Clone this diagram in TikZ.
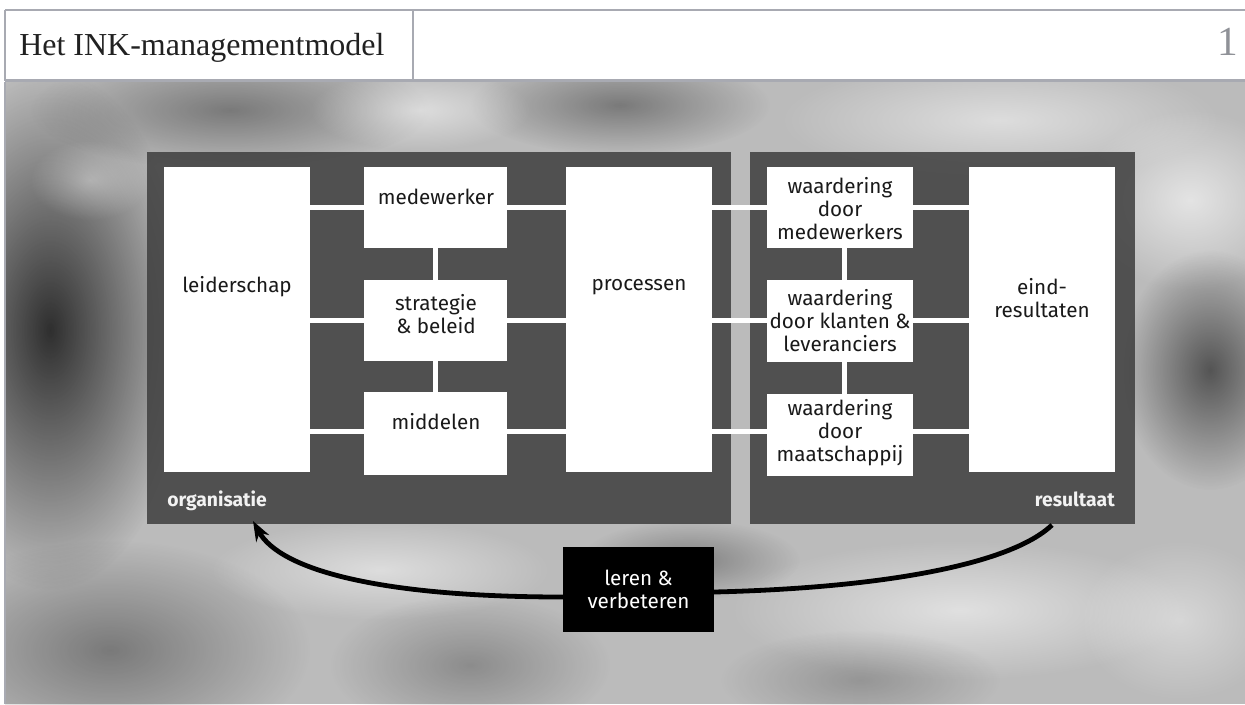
\documentclass[tikz,border=0pt]{standalone}
\usepackage{fontspec}
\newfontfamily\dsans{Fira Sans}
\newfontfamily\dserif{Liberation Serif}
\usetikzlibrary{fit,arrows.meta,fadings}
\tikzfading[name=softblob, inner color=transparent!0, outer color=transparent!100]
\definecolor{hdrc}{HTML}{A8AAB2}
\definecolor{bgc}{HTML}{BBBBBB}
\definecolor{panelc}{HTML}{3E3E3E}
\begin{document}
\begin{tikzpicture}[x=0.75pt,y=-0.75pt,
  panel/.style={fill=panelc, fill opacity=0.85, draw=none, inner sep=0pt},
  wbox/.style={fill=white, draw=none, inner sep=0pt},
  lbl/.style={font=\dsans\fontsize{15.5}{17.25}\selectfont, text=black!90, align=center, inner sep=0pt},
  plbl/.style={font=\dsans\bfseries\fontsize{14.5}{16}\selectfont, text=white!95!black, inner sep=0pt},
  wline/.style={draw=white, line width=3.75pt},
  hdr/.style={draw=hdrc, line width=1.5pt},
  loop/.style={draw=black, line width=3.6pt, -{Stealth[length=15pt,width=11pt]}},
]
\useasboundingbox (0,0) rectangle (1245,704);
\fill[white] (0,0) rectangle (1245,704);
% photo background
\begin{scope}
\clip (5,82) rectangle (1245,704);
\fill[bgc] (5,82) rectangle (1245,704);
\fill[black, opacity=0.75, path fading=softblob] (50,330) ellipse (140 and 260);
\fill[black, opacity=0.35, path fading=softblob] (230,110) ellipse (200 and 60);
\fill[black, opacity=0.35, path fading=softblob] (620,105) ellipse (150 and 50);
\fill[white, opacity=0.5, path fading=softblob] (420,110) ellipse (110 and 40);
\fill[white, opacity=0.5, path fading=softblob] (1000,120) ellipse (220 and 60);
\fill[white, opacity=0.6, path fading=softblob] (1190,200) ellipse (110 and 90);
\fill[black, opacity=0.55, path fading=softblob] (1210,370) ellipse (90 and 120);
\fill[black, opacity=0.35, path fading=softblob] (110,650) ellipse (200 and 110);
\fill[white, opacity=0.5, path fading=softblob] (380,570) ellipse (170 and 50);
\fill[black, opacity=0.25, path fading=softblob] (470,665) ellipse (140 and 70);
\fill[black, opacity=0.3, path fading=softblob] (690,560) ellipse (110 and 40);
\fill[white, opacity=0.55, path fading=softblob] (960,610) ellipse (230 and 70);
\fill[black, opacity=0.2, path fading=softblob] (860,680) ellipse (140 and 50);
\fill[white, opacity=0.4, path fading=softblob] (1180,620) ellipse (100 and 80);
\fill[white, opacity=0.35, path fading=softblob] (90,180) ellipse (60 and 40);
\end{scope}
\draw[draw=hdrc, line width=1pt] (5,82) -- (5,704);
% header
\draw[hdr] (5,10) -- (1245,10);
\draw[hdr] (5,10) -- (5,81);
\draw[hdr, line width=2pt] (5,80.5) -- (1245,80.5);
\draw[hdr] (413,10) -- (413,80);
\node[anchor=base west, font=\dserif\fontsize{24}{26}\selectfont, text=black!87, inner sep=0pt] (title) at (19,55) {Het INK-managementmodel};
\node[anchor=base, font=\dserif\fontsize{31}{31}\selectfont, text=hdrc!85!black, inner sep=0pt] (num) at (1228,55) {1};
% panels
\node[panel, fit={(147,152) (731,524)}] (org) {};
\node[panel, fit={(750,152) (1135,524)}] (res) {};
% boxes
\node[wbox, fit={(164,167) (310,472)}] (leid) {};
\node[wbox, fit={(364,167) (507,248)}] (medw) {};
\node[wbox, fit={(364,280) (507,361)}] (strat) {};
\node[wbox, fit={(364,392) (507,475)}] (midd) {};
\node[wbox, fit={(566,167) (712,472)}] (proc) {};
\node[wbox, fit={(767,167) (913,248)}] (wmed) {};
\node[wbox, fit={(767,280) (913,362)}] (wkla) {};
\node[wbox, fit={(767,394) (913,476)}] (wmaa) {};
\node[wbox, fit={(969,167) (1115,472)}] (eind) {};
% connectors
\draw[wline] (medw.west -| leid.east) -- (medw.west);
\draw[wline] (strat.west -| leid.east) -- (strat.west);
\draw[wline] ([yshift=1.5pt]midd.west -| leid.east) -- ([yshift=1.5pt]midd.west);
\draw[wline] (medw.east) -- (medw.east -| proc.west);
\draw[wline] (strat.east) -- (strat.east -| proc.west);
\draw[wline] ([yshift=1.5pt]midd.east) -- ([yshift=1.5pt]midd.east -| proc.west);
\draw[wline] (wmed.west -| proc.east) -- (wmed.west);
\draw[wline] ([yshift=0.75pt]wkla.west -| proc.east) -- ([yshift=0.75pt]wkla.west);
\draw[wline] ([yshift=2.6pt]wmaa.west -| proc.east) -- ([yshift=2.6pt]wmaa.west);
\draw[wline] (wmed.east) -- (wmed.east -| eind.west);
\draw[wline] ([yshift=0.75pt]wkla.east) -- ([yshift=0.75pt]wkla.east -| eind.west);
\draw[wline] ([yshift=2.6pt]wmaa.east) -- ([yshift=2.6pt]wmaa.east -| eind.west);
\draw[wline] (medw.south) -- (strat.north);
\draw[wline] (strat.south) -- (midd.north);
\draw[wline] ([xshift=3pt]wmed.south) -- ([xshift=3pt]wkla.north);
\draw[wline] ([xshift=3pt]wkla.south) -- ([xshift=3pt]wmaa.north);
% labels
\node[lbl] (tleid) at (237,287) {leiderschap};
\node[lbl] (tmedw) at (436,197) {medewerker};
\node[lbl] (tstrat) at (436,314) {strategie\\\& beleid};
\node[lbl] (tmidd) at (436,422) {middelen};
\node[lbl] (tproc) at (639,287) {processen};
\node[lbl] (twmed) at (840,209) {waardering\\door\\medewerkers};
\node[lbl] (twkla) at (840,321) {waardering\\door klanten \&\\leveranciers};
\node[lbl] (twmaa) at (840,433) {waardering\\door\\maatschappij};
\node[lbl] (teind) at (1042,298) {eind-\\resultaten};
\node[plbl, anchor=base west] (torg) at (167,506) {organisatie};
\node[plbl, anchor=base east] (tres) at (1115,506) {resultaat};
% loop arrow
\coordinate (lstart) at (1052,525);
\coordinate (lend) at (253,521);
\node[fill=black, inner sep=0pt, fit={(563,547) (714,632)}] (leren) {};
\draw[loop] (lstart) .. controls (1010,565) and (880,588) .. (leren.east |- 0,592) -- (leren.west |- 0,597) .. controls (380,597) and (280,570) .. (lend);
\node[fill=black, inner sep=0pt, fit={(563,547) (714,632)}] (lerenbox) {};
\node[lbl, text=white] (tleren) at (lerenbox.center) {leren \&\\verbeteren};
\end{tikzpicture}
\end{document}
